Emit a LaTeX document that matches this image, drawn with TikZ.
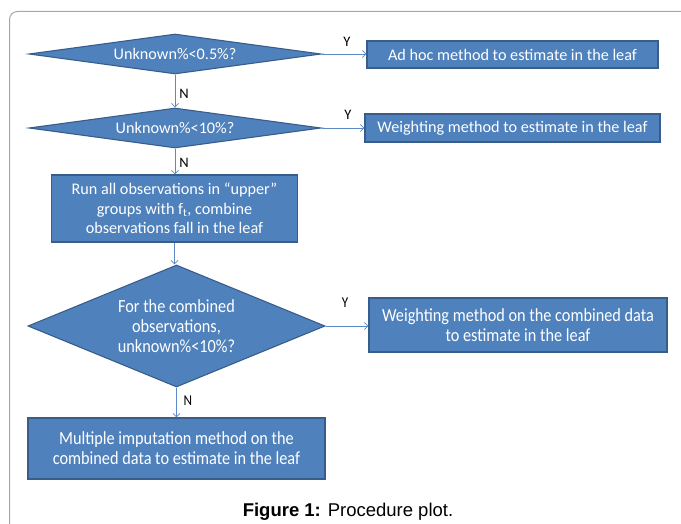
\documentclass[tikz,border=0pt]{standalone}
\usepackage{fontspec}
\setmainfont{Carlito}
\newfontfamily\condfont[FakeStretch=0.88]{Carlito}
\newfontfamily\capfont{Liberation Sans}
\usetikzlibrary{shapes.geometric,arrows.meta}
\definecolor{boxfill}{HTML}{4F81BD}
\definecolor{boxline}{HTML}{385D8A}
\definecolor{arrowc}{HTML}{5B8AC6}
\definecolor{framec}{HTML}{A6A6A6}
\tikzset{
  decision/.style={diamond, draw=boxline, fill=boxfill, line width=1.1pt, inner sep=0pt,
    text=white, align=center, font=\fontsize{16.2}{19.5}\selectfont},
  procbox/.style={rectangle, draw=boxline, fill=boxfill, line width=1.1pt, inner sep=0pt,
    text=white, align=center, font=\fontsize{16.2}{19.5}\selectfont},
  condtext/.style={font=\condfont\fontsize{18.5}{20}\selectfont},
  flow/.style={draw=arrowc, line width=0.8pt, -{Straight Barb[length=3.5pt,width=7pt]}},
  yn/.style={font=\fontsize{14.5}{16}\selectfont, inner sep=0pt},
}
\begin{document}
\begin{tikzpicture}[x=1pt,y=-1pt]
\useasboundingbox (0,0) rectangle (681,524);
\draw[framec, line width=1pt, rounded corners=8pt] (9.5,524) |- (681,11.5);

\node[decision, minimum width=292pt, minimum height=40pt, aspect=7.3] (d1) at (175,54) {Unknown\%<0.5\%?};
\node[procbox, minimum width=291pt, minimum height=27pt] (b1) at (512.5,54.5) {Ad hoc method to estimate in the leaf};
\node[decision, minimum width=292pt, minimum height=40pt, aspect=7.3] (d2) at (175,128) {Unknown\%<10\%?};
\node[procbox, minimum width=295pt, minimum height=28pt] (b2) at (512.5,128) {Weighting method to estimate in the leaf};
\node[procbox, minimum width=246pt, minimum height=67pt] (b3) at (174.5,208.5) {Run all observations in “upper”\\groups with f\textsubscript{t}, combine\\observations fall in the leaf};
\node[decision, minimum width=297pt, minimum height=122pt, aspect=2.43, condtext] (d3) at (176.5,326) {For the combined\\observations,\\unknown\%<10\%?};
\node[procbox, minimum width=298pt, minimum height=54pt, condtext] (b4) at (518,325) {Weighting method on the combined data\\to estimate in the leaf};
\node[procbox, minimum width=297pt, minimum height=61pt, condtext] (b5) at (176.5,448.5) {Multiple imputation method on the\\combined data to estimate in the leaf};

\draw[flow] (d1.east) -- (d1.east -| b1.west);
\draw[flow] (d2.east) -- (d2.east -| b2.west);
\draw[flow] (d3.east) -- (d3.east -| b4.west);
\draw[flow] (d1.south) -- (d2.north);
\draw[flow] (d2.south) -- (d2.south |- b3.north);
\draw[flow] (b3.south) -- (b3.south |- d3.north);
\draw[flow] (d3.south) -- (d3.south |- b5.north);

\node[yn] (y1) at (347,42) {Y};
\node[yn] (y2) at (348,115) {Y};
\node[yn, font=\condfont\fontsize{15}{16}\selectfont] (y3) at (345,303) {Y};
\node[yn] (n1) at (184,94) {N};
\node[yn] (n2) at (184,163) {N};
\node[yn, font=\condfont\fontsize{15}{16}\selectfont] (n3) at (188,401) {N};

\node[font=\capfont\fontsize{18.5}{20}\selectfont, inner sep=0pt] (cap) at (348,512) {\textbf{Figure 1:} Procedure plot.};
\end{tikzpicture}
\end{document}
